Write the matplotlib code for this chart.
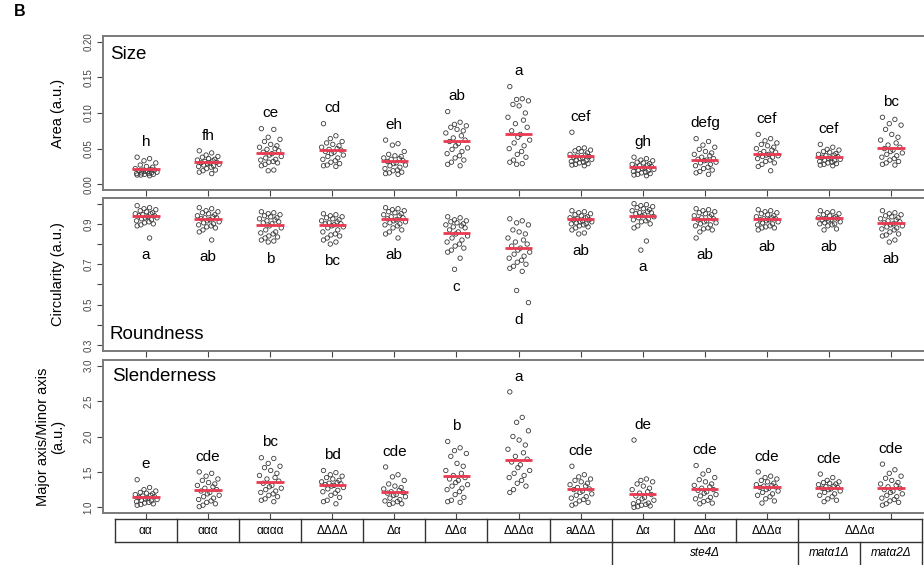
import matplotlib
matplotlib.use("Agg")
import matplotlib.pyplot as plt
import numpy as np

plt.rcParams["font.family"] = ["Liberation Sans", "DejaVu Sans"]

# ── data ──────────────────────────────────────────────────────────────────────
strains = ["αα", "ααα", "αααα", "ΔΔΔΔ", "Δα", "ΔΔα", "ΔΔΔα", "aΔΔΔ",
           "Δα", "ΔΔα", "ΔΔΔα", "ΔΔΔα", "ΔΔΔα"]

area = [
    [0.038, 0.036, 0.033, 0.030, 0.027, 0.025, 0.024, 0.022, 0.021, 0.020, 0.020, 0.019,
     0.018, 0.018, 0.017, 0.016, 0.016, 0.015, 0.015, 0.014, 0.014, 0.013, 0.013, 0.012],
    [0.047, 0.044, 0.041, 0.039, 0.038, 0.036, 0.035, 0.034, 0.033, 0.032, 0.031, 0.030,
     0.030, 0.029, 0.028, 0.027, 0.026, 0.025, 0.024, 0.022, 0.020, 0.019, 0.017, 0.015],
    [0.078, 0.077, 0.066, 0.063, 0.060, 0.056, 0.054, 0.052, 0.050, 0.049, 0.047, 0.045,
     0.043, 0.041, 0.039, 0.037, 0.035, 0.034, 0.032, 0.031, 0.030, 0.028, 0.026, 0.020, 0.019],
    [0.085, 0.068, 0.064, 0.060, 0.058, 0.056, 0.054, 0.052, 0.050, 0.049, 0.048, 0.046,
     0.045, 0.043, 0.041, 0.039, 0.037, 0.035, 0.033, 0.031, 0.029, 0.027, 0.026, 0.025],
    [0.062, 0.057, 0.055, 0.046, 0.042, 0.040, 0.039, 0.037, 0.036, 0.035, 0.033, 0.032,
     0.030, 0.029, 0.027, 0.026, 0.024, 0.022, 0.020, 0.019, 0.017, 0.016, 0.015, 0.014],
    [0.102, 0.087, 0.084, 0.082, 0.080, 0.077, 0.075, 0.072, 0.068, 0.065, 0.062, 0.060,
     0.057, 0.054, 0.051, 0.049, 0.046, 0.043, 0.040, 0.037, 0.034, 0.031, 0.028, 0.026],
    [0.137, 0.120, 0.119, 0.117, 0.112, 0.110, 0.100, 0.094, 0.090, 0.085, 0.080, 0.075,
     0.070, 0.066, 0.062, 0.058, 0.054, 0.050, 0.046, 0.042, 0.038, 0.034, 0.031, 0.029, 0.028],
    [0.073, 0.051, 0.050, 0.048, 0.047, 0.046, 0.044, 0.042, 0.041, 0.040, 0.039, 0.038,
     0.037, 0.036, 0.035, 0.034, 0.033, 0.032, 0.031, 0.030, 0.029, 0.028, 0.027, 0.026],
    [0.038, 0.036, 0.034, 0.033, 0.031, 0.030, 0.029, 0.028, 0.027, 0.026, 0.025, 0.024,
     0.023, 0.022, 0.021, 0.020, 0.019, 0.018, 0.017, 0.016, 0.015, 0.014, 0.013, 0.012],
    [0.064, 0.060, 0.055, 0.052, 0.049, 0.046, 0.044, 0.042, 0.040, 0.038, 0.036, 0.035,
     0.034, 0.033, 0.031, 0.030, 0.028, 0.026, 0.024, 0.022, 0.020, 0.018, 0.016, 0.014],
    [0.070, 0.064, 0.061, 0.058, 0.056, 0.054, 0.052, 0.050, 0.048, 0.046, 0.045, 0.043,
     0.042, 0.041, 0.040, 0.039, 0.038, 0.036, 0.034, 0.032, 0.030, 0.028, 0.025, 0.019],
    [0.056, 0.052, 0.049, 0.048, 0.046, 0.045, 0.043, 0.042, 0.041, 0.040, 0.039, 0.038,
     0.037, 0.036, 0.035, 0.034, 0.033, 0.032, 0.031, 0.030, 0.029, 0.028, 0.027, 0.026],
    [0.094, 0.091, 0.085, 0.083, 0.077, 0.070, 0.066, 0.062, 0.058, 0.055, 0.052, 0.050,
     0.048, 0.046, 0.044, 0.042, 0.040, 0.038, 0.036, 0.034, 0.032, 0.030, 0.028, 0.027],
]
area_mean = [0.021, 0.031, 0.0445, 0.048, 0.033, 0.061, 0.071, 0.039,
             0.0246, 0.034, 0.0427, 0.0388, 0.0506]
area_letters = ["h", "fh", "ce", "cd", "eh", "ab", "a", "cef", "gh", "defg", "cef", "cef", "bc"]

circ = [
    [0.99, 0.98, 0.975, 0.97, 0.965, 0.96, 0.955, 0.95, 0.95, 0.945, 0.94, 0.94,
     0.935, 0.93, 0.93, 0.925, 0.92, 0.915, 0.91, 0.905, 0.90, 0.895, 0.89, 0.83],
    [0.98, 0.975, 0.965, 0.96, 0.955, 0.95, 0.945, 0.94, 0.935, 0.93, 0.93, 0.925,
     0.92, 0.915, 0.91, 0.905, 0.90, 0.895, 0.89, 0.885, 0.88, 0.87, 0.86, 0.82],
    [0.96, 0.955, 0.95, 0.945, 0.94, 0.935, 0.93, 0.925, 0.92, 0.915, 0.91, 0.905,
     0.90, 0.89, 0.88, 0.87, 0.86, 0.855, 0.85, 0.84, 0.835, 0.83, 0.82, 0.815, 0.81],
    [0.95, 0.945, 0.94, 0.935, 0.93, 0.925, 0.92, 0.915, 0.91, 0.905, 0.90, 0.90,
     0.895, 0.89, 0.885, 0.88, 0.87, 0.86, 0.85, 0.845, 0.84, 0.83, 0.82, 0.81, 0.80],
    [0.98, 0.975, 0.97, 0.965, 0.96, 0.955, 0.95, 0.945, 0.94, 0.935, 0.93, 0.925,
     0.92, 0.915, 0.91, 0.905, 0.90, 0.895, 0.89, 0.88, 0.87, 0.86, 0.85, 0.83],
    [0.935, 0.93, 0.92, 0.915, 0.91, 0.905, 0.90, 0.895, 0.89, 0.885, 0.88, 0.87,
     0.86, 0.85, 0.84, 0.83, 0.82, 0.81, 0.80, 0.79, 0.78, 0.77, 0.76, 0.73, 0.675],
    [0.925, 0.915, 0.905, 0.895, 0.87, 0.86, 0.85, 0.83, 0.82, 0.81, 0.80, 0.79,
     0.78, 0.77, 0.76, 0.75, 0.74, 0.73, 0.72, 0.71, 0.70, 0.69, 0.68, 0.665, 0.57, 0.51],
    [0.965, 0.96, 0.955, 0.95, 0.945, 0.94, 0.935, 0.93, 0.93, 0.925, 0.92, 0.92,
     0.915, 0.91, 0.91, 0.905, 0.90, 0.90, 0.895, 0.89, 0.885, 0.88, 0.87, 0.855, 0.85],
    [1.0, 0.995, 0.99, 0.985, 0.98, 0.975, 0.97, 0.965, 0.96, 0.955, 0.955, 0.95,
     0.945, 0.94, 0.935, 0.93, 0.925, 0.92, 0.915, 0.91, 0.90, 0.89, 0.88, 0.815, 0.77],
    [0.975, 0.97, 0.965, 0.96, 0.955, 0.95, 0.945, 0.94, 0.935, 0.93, 0.925, 0.92,
     0.915, 0.91, 0.905, 0.90, 0.895, 0.89, 0.88, 0.875, 0.87, 0.86, 0.83],
    [0.97, 0.965, 0.96, 0.955, 0.95, 0.945, 0.94, 0.935, 0.93, 0.925, 0.925, 0.92,
     0.92, 0.915, 0.91, 0.905, 0.90, 0.895, 0.89, 0.885, 0.88, 0.88, 0.87],
    [0.965, 0.96, 0.955, 0.95, 0.945, 0.94, 0.935, 0.93, 0.93, 0.925, 0.925, 0.92,
     0.92, 0.915, 0.91, 0.905, 0.90, 0.90, 0.895, 0.89, 0.875, 0.87],
    [0.965, 0.955, 0.95, 0.945, 0.94, 0.935, 0.93, 0.925, 0.92, 0.915, 0.91, 0.905,
     0.90, 0.895, 0.89, 0.885, 0.88, 0.875, 0.87, 0.86, 0.85, 0.845, 0.84, 0.82, 0.81],
]
circ_mean = [0.941, 0.923, 0.895, 0.892, 0.923, 0.853, 0.78, 0.922,
             0.941, 0.922, 0.923, 0.927, 0.903]
circ_letters = ["a", "ab", "b", "bc", "ab", "c", "d", "ab", "a", "ab", "ab", "ab", "ab"]

slender = [
    [1.39, 1.28, 1.25, 1.23, 1.21, 1.20, 1.19, 1.18, 1.17, 1.16, 1.15, 1.14,
     1.13, 1.12, 1.11, 1.10, 1.09, 1.08, 1.07, 1.06, 1.05, 1.04, 1.03],
    [1.50, 1.48, 1.44, 1.40, 1.38, 1.35, 1.33, 1.31, 1.29, 1.27, 1.25, 1.23,
     1.21, 1.19, 1.17, 1.15, 1.13, 1.11, 1.09, 1.07, 1.05, 1.03, 1.01],
    [1.70, 1.69, 1.62, 1.58, 1.56, 1.52, 1.48, 1.45, 1.42, 1.40, 1.37, 1.34,
     1.31, 1.29, 1.27, 1.25, 1.23, 1.21, 1.19, 1.17, 1.15, 1.12, 1.10, 1.08],
    [1.52, 1.49, 1.46, 1.44, 1.42, 1.40, 1.38, 1.36, 1.35, 1.34, 1.33, 1.32,
     1.31, 1.30, 1.28, 1.26, 1.24, 1.22, 1.20, 1.17, 1.14, 1.10, 1.08, 1.05],
    [1.57, 1.46, 1.43, 1.38, 1.33, 1.30, 1.28, 1.26, 1.24, 1.22, 1.21, 1.20,
     1.18, 1.17, 1.15, 1.13, 1.11, 1.09, 1.08, 1.06, 1.05, 1.04],
    [1.93, 1.84, 1.80, 1.76, 1.72, 1.62, 1.58, 1.52, 1.48, 1.45, 1.42, 1.40,
     1.38, 1.35, 1.32, 1.30, 1.27, 1.25, 1.22, 1.18, 1.14, 1.10, 1.08, 1.07],
    [2.63, 2.27, 2.20, 2.08, 2.00, 1.95, 1.88, 1.82, 1.77, 1.72, 1.68, 1.64,
     1.60, 1.56, 1.52, 1.48, 1.45, 1.42, 1.38, 1.34, 1.30, 1.25, 1.21],
    [1.58, 1.46, 1.43, 1.40, 1.38, 1.36, 1.34, 1.32, 1.30, 1.28, 1.26, 1.25,
     1.23, 1.21, 1.19, 1.17, 1.15, 1.13, 1.11, 1.09, 1.07, 1.05, 1.03],
    [1.95, 1.40, 1.38, 1.36, 1.33, 1.30, 1.27, 1.25, 1.22, 1.20, 1.18, 1.16,
     1.14, 1.12, 1.10, 1.08, 1.06, 1.05, 1.04, 1.03, 1.02, 1.01, 1.00],
    [1.59, 1.52, 1.47, 1.42, 1.39, 1.36, 1.33, 1.31, 1.29, 1.27, 1.25, 1.24,
     1.22, 1.20, 1.18, 1.16, 1.14, 1.12, 1.10, 1.08, 1.06, 1.05],
    [1.50, 1.44, 1.42, 1.40, 1.38, 1.36, 1.34, 1.32, 1.31, 1.30, 1.29, 1.28,
     1.27, 1.25, 1.23, 1.21, 1.19, 1.17, 1.15, 1.12, 1.09, 1.06],
    [1.47, 1.42, 1.38, 1.36, 1.35, 1.34, 1.33, 1.32, 1.30, 1.29, 1.28, 1.27,
     1.26, 1.25, 1.23, 1.21, 1.19, 1.17, 1.15, 1.12, 1.10, 1.08],
    [1.61, 1.53, 1.48, 1.44, 1.41, 1.38, 1.35, 1.33, 1.31, 1.29, 1.27, 1.25,
     1.23, 1.21, 1.19, 1.17, 1.15, 1.13, 1.11, 1.09, 1.07, 1.05, 1.03],
]
slender_mean = [1.152, 1.247, 1.361, 1.313, 1.223, 1.446, 1.674, 1.256,
                1.19, 1.256, 1.294, 1.27, 1.27]
slender_letters = ["e", "cde", "bc", "bd", "cde", "b", "a", "cde", "de", "cde", "cde", "cde", "cde"]

# ── styling / layout ──────────────────────────────────────────────────────────
JITTER = [-0.14, 0.06, -0.03, 0.16, -0.09, 0.01, 0.11, -0.17, 0.08, -0.05, 0.14,
          -0.11, 0.03, -0.01, 0.18, -0.07, 0.09, -0.15, 0.05, -0.02, 0.12, -0.08]
RED = "#ea3a52"
FRAME = "#7a7a7a"
W, H = 924, 565
LEFT, RIGHT = 103, 934
XLIM = (0.31, 13.69)

fig = plt.figure(figsize=(W / 100, H / 100), dpi=100)


def px_axes(top, bottom):
    return fig.add_axes([LEFT / W, 1 - bottom / H, (RIGHT - LEFT) / W, (bottom - top) / H])


def draw_panel(ax, groups, means, letters, ylim, ticks, ticklabels, ylabel,
               title, title_xy, letter_above, letter_off):
    xs = np.arange(1, len(groups) + 1)
    for x, vals, m, lab in zip(xs, groups, means, letters):
        off = np.array([JITTER[k % len(JITTER)] for k in range(len(vals))])
        ax.scatter(x + off, vals, s=10, facecolors="none", edgecolors="#3a3a3a",
                   linewidths=0.6, zorder=2)
        ax.plot([x - 0.22, x + 0.22], [m, m], color=RED, lw=2.0, zorder=3,
                solid_capstyle="butt")
        anchor = max(vals) if letter_above else min(vals)
        ax.annotate(lab, (x, anchor), xytext=(0, letter_off), textcoords="offset points",
                    ha="center", va="center", fontsize=11)
    ax.set_xlim(*XLIM)
    ax.set_ylim(*ylim)
    ax.set_xticks(xs)
    ax.set_xticklabels([])
    ax.set_yticks(ticks)
    ax.set_yticklabels(ticklabels, rotation=90, va="center", fontsize=7, color="#444")
    ax.tick_params(axis="both", direction="out", length=4, width=0.8, color="#444", pad=3)
    for sp in ax.spines.values():
        sp.set_color(FRAME)
        sp.set_linewidth(1.4)
    ax.set_ylabel(ylabel, fontsize=10.5, linespacing=1.1)
    ax.yaxis.set_label_coords(-0.046, 0.5)
    ax.text(title_xy[0], title_xy[1], title, transform=ax.transAxes, ha="left",
            va="center", fontsize=13.5)


ax1 = px_axes(36, 190)
draw_panel(ax1, area, area_mean, area_letters, (-0.008, 0.208),
           [0.0, 0.05, 0.10, 0.15, 0.20], ["0.00", "0.05", "0.10", "0.15", "0.20"],
           "Area (a.u.)", "Size", (0.008, 0.877), True, 11)

ax2 = px_axes(198, 350.7)
circ_ticks = [0.3, 0.4, 0.5, 0.6, 0.7, 0.8, 0.9, 1.0]
circ_labels = ["0.3", "", "0.5", "", "0.7", "", "0.9", ""]
draw_panel(ax2, circ, circ_mean, circ_letters, (0.272, 1.028), circ_ticks, circ_labels,
           "Circularity (a.u.)", "Roundness", (0.008, 0.109), False, -12.5)

ax3 = px_axes(360, 513)
draw_panel(ax3, slender, slender_mean, slender_letters, (0.92, 3.08),
           [1.0, 1.5, 2.0, 2.5, 3.0], ["1.0", "1.5", "2.0", "2.5", "3.0"],
           "Major axis/Minor axis\n(a.u.)", "Slenderness", (0.011, 0.889), True, 11)
ax3.tick_params(axis="x", length=4.5)

# ── strain table under the plots ──────────────────────────────────────────────
axt = fig.add_axes([LEFT / W, 0, (RIGHT - LEFT) / W, 46 / H])
axt.set_xlim(*XLIM)
axt.set_ylim(0, 46)
axt.axis("off")
lc = dict(color="#333333", lw=1.0, clip_on=False)

axt.plot([0.5, 13.5], [46, 46], **lc)
axt.plot([0.5, 13.5], [23, 23], **lc)
for b in [0.5, 1.5, 2.5, 3.5, 4.5, 5.5, 6.5, 7.5, 8.5, 9.5, 10.5, 11.5, 13.5]:
    axt.plot([b, b], [23, 46], **lc)
for i, s in enumerate(strains[:11]):
    axt.text(i + 1, 34.5, s, ha="center", va="center", fontsize=8.5)
axt.text(12.5, 34.5, "ΔΔΔα", ha="center", va="center", fontsize=8.5)

for b in [8.5, 11.5, 12.5, 13.5]:
    axt.plot([b, b], [-2, 23], **lc)
axt.text(10, 11.5, "ste4Δ", ha="center", va="center", fontsize=8.5, style="italic")
axt.text(12, 11.5, "matα1Δ", ha="center", va="center", fontsize=8.5, style="italic")
axt.text(13, 11.5, "matα2Δ", ha="center", va="center", fontsize=8.5, style="italic")

fig.text(14 / W, 1 - 12 / H, "B", ha="left", va="center", fontsize=11.5, fontweight="bold")

fig.savefig("out.png", dpi=100)
